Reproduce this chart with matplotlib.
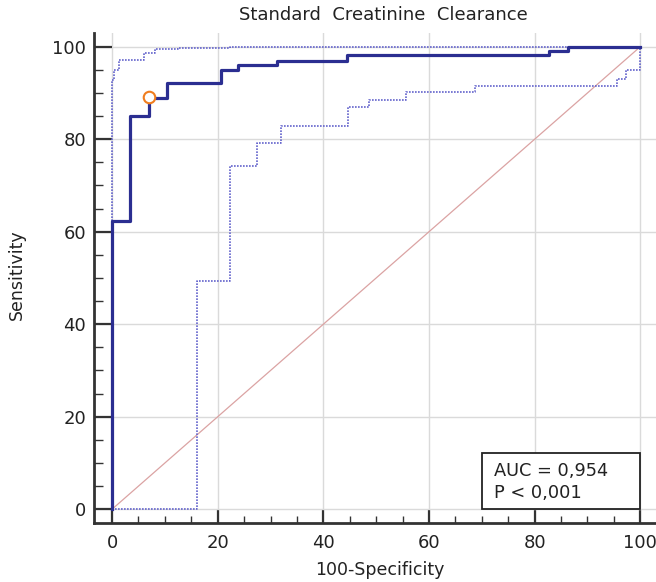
import matplotlib.pyplot as plt
from matplotlib.patches import Rectangle
from matplotlib.ticker import MultipleLocator

plt.rcParams['font.family'] = ['DejaVu Sans']

# ROC curve (100-Specificity, Sensitivity), step corners
roc_x = [0, 0, 3.4, 3.4, 7.0, 7.0, 10.4, 10.4, 20.7, 20.7, 23.9, 23.9, 31.3, 31.3,
         44.5, 44.5, 82.7, 82.7, 86.3, 86.3, 100]
roc_y = [0, 62.3, 62.3, 85, 85, 89, 89, 92.2, 92.2, 95, 95, 96.1, 96.1, 96.9,
         96.9, 98.2, 98.2, 99, 99, 100, 100]

# upper confidence bound
upper_x = [0, 0, 0.4, 0.4, 1.4, 1.4, 6.0, 6.0, 8.2, 8.2, 12.5, 12.5, 22.4, 22.4, 100]
upper_y = [0, 92.9, 92.9, 95, 95, 97.2, 97.2, 98.6, 98.6, 99.4, 99.4, 99.7, 99.7, 100, 100]

# lower confidence bound
lower_x = [0, 16, 16, 22.3, 22.3, 27.4, 27.4, 32, 32, 44.7, 44.7, 48.6, 48.6,
           55.7, 55.7, 68.7, 68.7, 95.6, 95.6, 97.2, 97.2, 100, 100]
lower_y = [0, 0, 49.4, 49.4, 74.1, 74.1, 79.1, 79.1, 82.9, 82.9, 86.9, 86.9, 88.4,
           88.4, 90.1, 90.1, 91.4, 91.4, 93.0, 93.0, 95.0, 95.0, 100]

# criterion point
crit_x = [7.06]
crit_y = [89.2]

auc_lines = ["AUC = 0,954", "P < 0,001"]

fig = plt.figure(figsize=(6.56, 5.82), dpi=100)
ax = fig.add_axes([0.1438, 0.1009, 0.8562, 0.8424])

ax.plot([0, 100], [0, 100], color="#dba3a3", linewidth=0.9, zorder=2)
ax.plot(lower_x, lower_y, color="#6464cc", linestyle=(0, (1, 0.8)), linewidth=1.2, zorder=3)
ax.plot(upper_x, upper_y, color="#6464cc", linestyle=(0, (1, 0.8)), linewidth=1.2, zorder=3)
ax.plot(roc_x, roc_y, color="#2b2e91", linewidth=2.3, zorder=4)
ax.plot(crit_x, crit_y, marker="o", markersize=8.3, markerfacecolor="white",
        markeredgecolor="#f07d1e", markeredgewidth=1.5, linestyle="none", zorder=5)

ax.set_xlim(-3.35, 102.97)
ax.set_ylim(-3.03, 102.96)
ax.xaxis.set_major_locator(MultipleLocator(20))
ax.xaxis.set_minor_locator(MultipleLocator(5))
ax.yaxis.set_major_locator(MultipleLocator(20))
ax.yaxis.set_minor_locator(MultipleLocator(5))
ax.grid(True, which="major", color="#dadada", linewidth=1.0, zorder=0)
ax.set_axisbelow(True)

for side in ["top", "right"]:
    ax.spines[side].set_visible(False)
for side in ["left", "bottom"]:
    ax.spines[side].set_linewidth(2.0)
    ax.spines[side].set_color("#333333")

ax.tick_params(axis="x", which="major", direction="in", length=10, width=1.6,
               color="#333333", labelsize=13, pad=7.5, labelcolor="#222222")
ax.tick_params(axis="x", which="minor", direction="in", length=5, width=1.0, color="#333333")
ax.tick_params(axis="y", which="major", direction="in", length=13, width=1.6,
               color="#333333", labelsize=13, pad=6, labelcolor="#222222")
ax.tick_params(axis="y", which="minor", direction="in", length=6.5, width=1.0, color="#333333")

fig.text(380 / 656, 1 - 570 / 582, "100-Specificity", ha="center", va="center",
         fontsize=12.5, color="#222222")
fig.text(17 / 656, 1 - 275 / 582, "Sensitivity", ha="center", va="center",
         rotation=90, fontsize=12.5, color="#222222")
fig.text(383 / 656, 1 - 15 / 582, "Standard  Creatinine  Clearance", ha="center",
         va="center", fontsize=13, color="#222222")

ax.add_patch(Rectangle((70, 0), 30, 12.2, facecolor="white", edgecolor="#222222",
                       linewidth=1.3, zorder=6))
ax.text(72.3, 7.2, auc_lines[0], fontsize=12.8, va="baseline", ha="left",
        color="#222222", zorder=7)
ax.text(72.3, 2.4, auc_lines[1], fontsize=12.8, va="baseline", ha="left",
        color="#222222", zorder=7)

fig.savefig("out.png", dpi=100)
